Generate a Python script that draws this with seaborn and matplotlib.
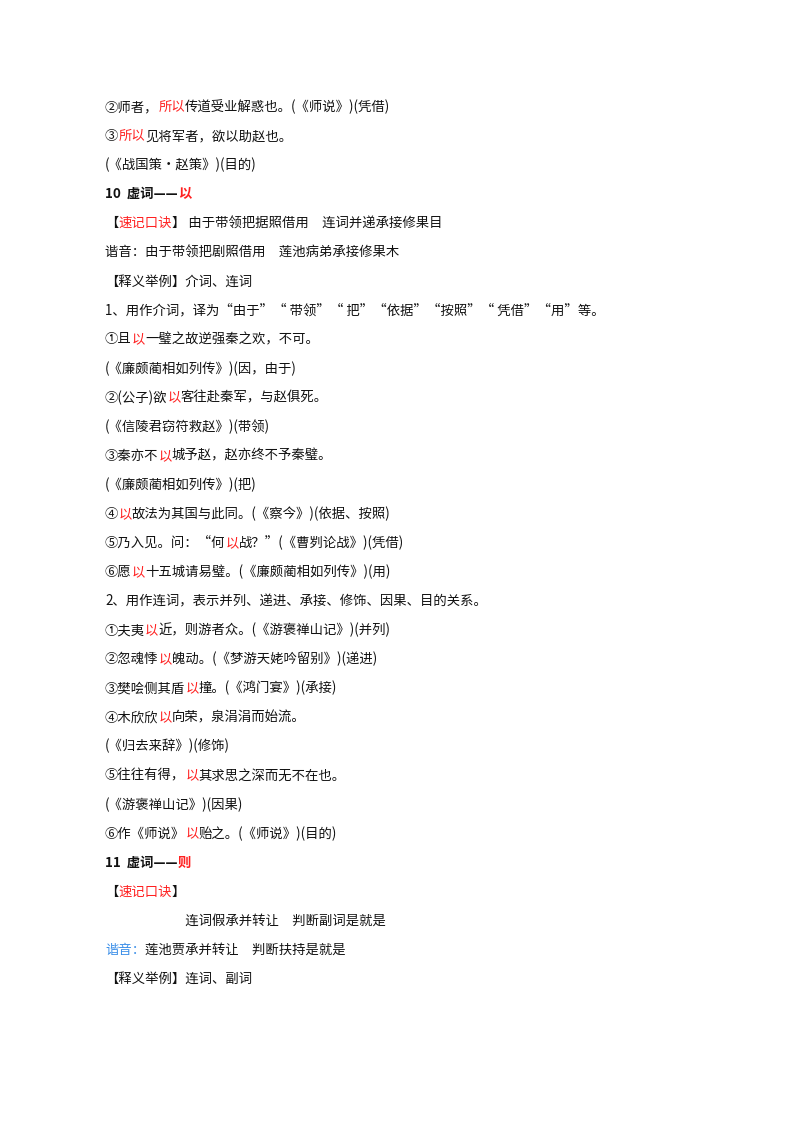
import matplotlib
matplotlib.use("Agg")
import matplotlib.pyplot as plt
import seaborn as sns

sns.set_theme(style="white")
plt.rcParams['font.family'] = ['Noto Sans CJK SC', 'DejaVu Sans']

K = "#111111"
R = "#ff2020"
B = "#3a8ee8"

lines = [
    [("②师者，", K), ("所以", R), ("传道受业解惑也。(《师说》)(凭借)", K)],
    [("③", K), ("所以", R), ("见将军者，欲以助赵也。", K)],
    [("(《战国策•赵策》)(目的)", K)],
    [("10  虚词——", K, "bold"), ("以", R, "bold")],
    [("【", K), ("速记口诀", R), ("】 由于带领把据照借用　连词并递承接修果目", K)],
    [("谐音：由于带领把剧照借用　莲池病弟承接修果木", K)],
    [("【释义举例】介词、连词", K)],
    [("1、用作介词，译为“由于”“ 带领”“ 把”“依据”“按照”“ 凭借”“用”等。", K)],
    [("①且", K), ("以", R), ("一璧之故逆强秦之欢，不可。", K)],
    [("(《廉颇蔺相如列传》)(因，由于)", K)],
    [("②(公子)欲", K), ("以", R), ("客往赴秦军，与赵俱死。", K)],
    [("(《信陵君窃符救赵》)(带领)", K)],
    [("③秦亦不", K), ("以", R), ("城予赵，赵亦终不予秦璧。", K)],
    [("(《廉颇蔺相如列传》)(把)", K)],
    [("④", K), ("以", R), ("故法为其国与此同。(《察今》)(依据、按照)", K)],
    [("⑤乃入见。问：“何", K), ("以", R), ("战？”(《曹刿论战》)(凭借)", K)],
    [("⑥愿", K), ("以", R), ("十五城请易璧。(《廉颇蔺相如列传》)(用)", K)],
    [("2、用作连词，表示并列、递进、承接、修饰、因果、目的关系。", K)],
    [("①夫夷", K), ("以", R), ("近，则游者众。(《游褒禅山记》)(并列)", K)],
    [("②忽魂悸", K), ("以", R), ("魄动。(《梦游天姥吟留别》)(递进)", K)],
    [("③樊哙侧其盾", K), ("以", R), ("撞。(《鸿门宴》)(承接)", K)],
    [("④木欣欣", K), ("以", R), ("向荣，泉涓涓而始流。", K)],
    [("(《归去来辞》)(修饰)", K)],
    [("⑤往往有得，", K), ("以", R), ("其求思之深而无不在也。", K)],
    [("(《游褒禅山记》)(因果)", K)],
    [("⑥作《师说》", K), ("以", R), ("贻之。(《师说》)(目的)", K)],
    [("11  虚词——", K, "bold"), ("则", R, "bold")],
    [("【", K), ("速记口诀", R), ("】", K)],
    [("　　　　　　连词假承并转让　判断副词是就是", K)],
    [("谐音：", B), ("莲池贾承并转让　判断扶持是就是", K)],
    [("【释义举例】连词、副词", K)],
]

fig = plt.figure(figsize=(8, 11.32), dpi=100)
fig.patch.set_facecolor("white")
ax = fig.add_axes([0, 0, 1, 1])
ax.set_xlim(0, 800)
ax.set_ylim(1132, 0)
ax.axis("off")
fig.canvas.draw()
renderer = fig.canvas.get_renderer()

y0, dy = 107, 29.06
for i, segs in enumerate(lines):
    x = 105
    y = y0 + i * dy
    for seg in segs:
        txt, col = seg[0], seg[1]
        w = seg[2] if len(seg) > 2 else "normal"
        t = ax.text(x, y, txt, color=col, fontsize=9.6, fontweight=w,
                    va="center", ha="left")
        bb = t.get_window_extent(renderer=renderer)
        x += bb.width

fig.savefig("out.png", dpi=100, facecolor="white")
